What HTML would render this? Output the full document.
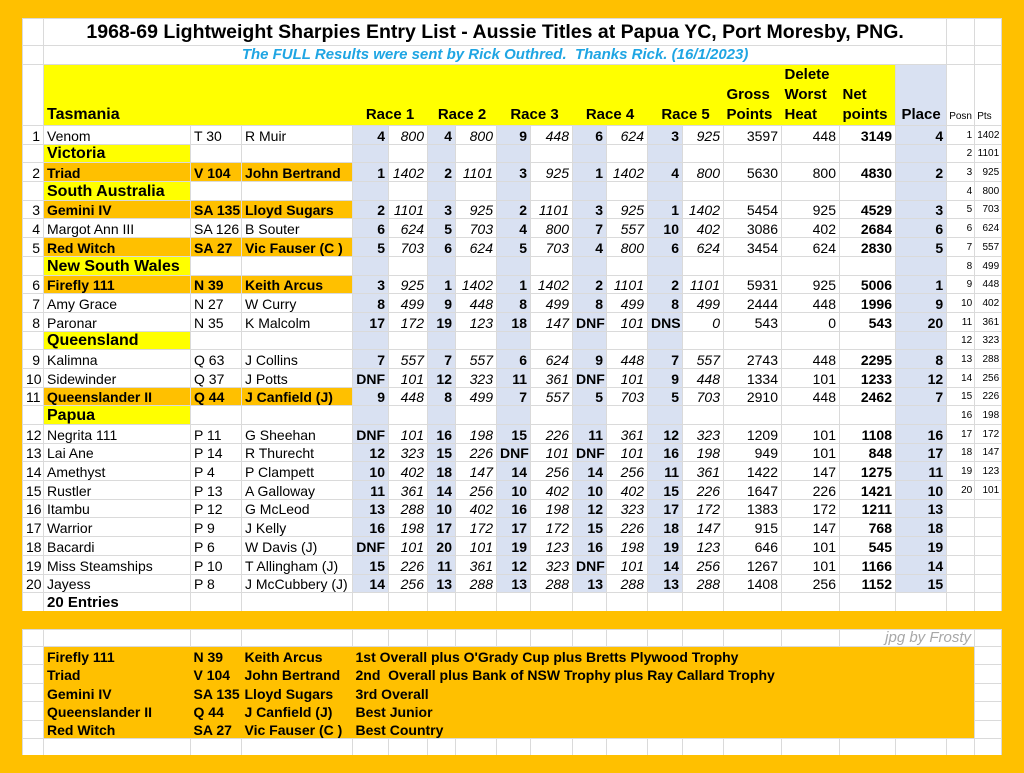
<!DOCTYPE html>
<html><head><meta charset="utf-8"><style>
*{margin:0;padding:0;box-sizing:border-box}
body{width:1024px;height:773px;background:#FFC000;position:relative;overflow:hidden;font-family:"Liberation Sans",Arial,sans-serif;color:#000}
#w1{position:absolute;left:22px;top:18px;width:980px;height:593px;background:#fff;overflow:hidden}
#w2{position:absolute;left:22px;top:629px;width:980px;height:126px;background:#fff;overflow:hidden}
table{border-collapse:collapse;table-layout:fixed;position:absolute;left:0;top:0;width:979px}
td{border:1px solid #dadada;font-size:14px;white-space:nowrap;overflow:visible;padding:0 3px;line-height:16px;vertical-align:bottom}
col.b{background:#D9E1F2}
tr.d{height:18.7px}
.p{font-weight:bold;text-align:right}
.s{font-style:italic;text-align:right}
.r{text-align:right}
.c{text-align:center}
.bd{font-weight:bold}
.o{background:#FFC000;font-weight:bold}
.y{background:#FFFF00}
.st{background:#FFFF00;font-weight:bold;font-size:16px}
.w{background:#fff}
.sm{font-size:10px;text-align:right;padding:0 2px}
.h td{white-space:normal}
.h td.y,.h td.hb{font-weight:bold;font-size:15px;line-height:20px;padding-bottom:0}
.hb{background:#D9E1F2}
</style></head><body>
<div id="w1">
<table>
<colgroup><col style="width:21px"><col style="width:147px"><col style="width:51px"><col style="width:111px"><col class="b" style="width:36px"><col style="width:39px"><col class="b" style="width:28px"><col style="width:41px"><col class="b" style="width:34px"><col style="width:42px"><col class="b" style="width:34px"><col style="width:41px"><col class="b" style="width:35px"><col style="width:41px"><col style="width:58px"><col style="width:58px"><col style="width:56px"><col class="b" style="width:51px"><col style="width:28px"><col style="width:27px"></colgroup>
<tr style="height:27px"><td class="w"></td><td class="w c" colspan="17" style="font-weight:bold;font-size:19.5px;line-height:24px;vertical-align:middle;border-left:none;border-right:none">1968-69 Lightweight Sharpies Entry List - Aussie Titles at Papua YC, Port Moresby, PNG.</td><td class="w"></td><td class="w"></td></tr>
<tr style="height:19px"><td class="w"></td><td class="w c" colspan="17" style="font-weight:bold;font-style:italic;font-size:15px;color:#1FA5E3;vertical-align:middle;border-left:none;border-right:none">The FULL Results were sent by Rick Outhred.&nbsp; Thanks Rick. (16/1/2023)</td><td class="w"></td><td class="w"></td></tr>
<tr class="h" style="height:61px"><td class="w"></td><td class="y" colspan="3" style="font-size:16px;border-right:none">Tasmania</td><td class="y c" colspan="2" style="border:none">Race 1</td><td class="y c" colspan="2" style="border:none">Race 2</td><td class="y c" colspan="2" style="border:none">Race 3</td><td class="y c" colspan="2" style="border:none">Race 4</td><td class="y c" colspan="2" style="border:none">Race 5</td><td class="y" style="border:none">Gross Points</td><td class="y" style="border:none">Delete Worst Heat</td><td class="y" style="border:none">Net points</td><td class="hb c">Place</td><td class="sm w" style="text-align:left">Posn</td><td class="sm w" style="text-align:left">Pts</td></tr>
<tr class="d"><td class="r">1</td><td>Venom</td><td>T 30</td><td>R Muir</td><td class="p">4</td><td class="s">800</td><td class="p">4</td><td class="s">800</td><td class="p">9</td><td class="s">448</td><td class="p">6</td><td class="s">624</td><td class="p">3</td><td class="s">925</td><td class="r">3597</td><td class="r">448</td><td class="p">3149</td><td class="p">4</td><td class="sm">1</td><td class="sm">1402</td></tr>
<tr class="d"><td></td><td class="st">Victoria</td><td></td><td></td><td></td><td></td><td></td><td></td><td></td><td></td><td></td><td></td><td></td><td></td><td></td><td></td><td></td><td></td><td class="sm">2</td><td class="sm">1101</td></tr>
<tr class="d"><td class="r">2</td><td class="o">Triad</td><td class="o">V 104</td><td class="o">John Bertrand</td><td class="p">1</td><td class="s">1402</td><td class="p">2</td><td class="s">1101</td><td class="p">3</td><td class="s">925</td><td class="p">1</td><td class="s">1402</td><td class="p">4</td><td class="s">800</td><td class="r">5630</td><td class="r">800</td><td class="p">4830</td><td class="p">2</td><td class="sm">3</td><td class="sm">925</td></tr>
<tr class="d"><td></td><td class="st">South Australia</td><td></td><td></td><td></td><td></td><td></td><td></td><td></td><td></td><td></td><td></td><td></td><td></td><td></td><td></td><td></td><td></td><td class="sm">4</td><td class="sm">800</td></tr>
<tr class="d"><td class="r">3</td><td class="o">Gemini IV</td><td class="o">SA 135</td><td class="o">Lloyd Sugars</td><td class="p">2</td><td class="s">1101</td><td class="p">3</td><td class="s">925</td><td class="p">2</td><td class="s">1101</td><td class="p">3</td><td class="s">925</td><td class="p">1</td><td class="s">1402</td><td class="r">5454</td><td class="r">925</td><td class="p">4529</td><td class="p">3</td><td class="sm">5</td><td class="sm">703</td></tr>
<tr class="d"><td class="r">4</td><td>Margot Ann III</td><td>SA 126</td><td>B Souter</td><td class="p">6</td><td class="s">624</td><td class="p">5</td><td class="s">703</td><td class="p">4</td><td class="s">800</td><td class="p">7</td><td class="s">557</td><td class="p">10</td><td class="s">402</td><td class="r">3086</td><td class="r">402</td><td class="p">2684</td><td class="p">6</td><td class="sm">6</td><td class="sm">624</td></tr>
<tr class="d"><td class="r">5</td><td class="o">Red Witch</td><td class="o">SA 27</td><td class="o">Vic Fauser (C )</td><td class="p">5</td><td class="s">703</td><td class="p">6</td><td class="s">624</td><td class="p">5</td><td class="s">703</td><td class="p">4</td><td class="s">800</td><td class="p">6</td><td class="s">624</td><td class="r">3454</td><td class="r">624</td><td class="p">2830</td><td class="p">5</td><td class="sm">7</td><td class="sm">557</td></tr>
<tr class="d"><td></td><td class="st">New South Wales</td><td></td><td></td><td></td><td></td><td></td><td></td><td></td><td></td><td></td><td></td><td></td><td></td><td></td><td></td><td></td><td></td><td class="sm">8</td><td class="sm">499</td></tr>
<tr class="d"><td class="r">6</td><td class="o">Firefly 111</td><td class="o">N 39</td><td class="o">Keith Arcus</td><td class="p">3</td><td class="s">925</td><td class="p">1</td><td class="s">1402</td><td class="p">1</td><td class="s">1402</td><td class="p">2</td><td class="s">1101</td><td class="p">2</td><td class="s">1101</td><td class="r">5931</td><td class="r">925</td><td class="p">5006</td><td class="p">1</td><td class="sm">9</td><td class="sm">448</td></tr>
<tr class="d"><td class="r">7</td><td>Amy Grace</td><td>N 27</td><td>W Curry</td><td class="p">8</td><td class="s">499</td><td class="p">9</td><td class="s">448</td><td class="p">8</td><td class="s">499</td><td class="p">8</td><td class="s">499</td><td class="p">8</td><td class="s">499</td><td class="r">2444</td><td class="r">448</td><td class="p">1996</td><td class="p">9</td><td class="sm">10</td><td class="sm">402</td></tr>
<tr class="d"><td class="r">8</td><td>Paronar</td><td>N 35</td><td>K Malcolm</td><td class="p">17</td><td class="s">172</td><td class="p">19</td><td class="s">123</td><td class="p">18</td><td class="s">147</td><td class="p">DNF</td><td class="s">101</td><td class="p">DNS</td><td class="s">0</td><td class="r">543</td><td class="r">0</td><td class="p">543</td><td class="p">20</td><td class="sm">11</td><td class="sm">361</td></tr>
<tr class="d"><td></td><td class="st">Queensland</td><td></td><td></td><td></td><td></td><td></td><td></td><td></td><td></td><td></td><td></td><td></td><td></td><td></td><td></td><td></td><td></td><td class="sm">12</td><td class="sm">323</td></tr>
<tr class="d"><td class="r">9</td><td>Kalimna</td><td>Q 63</td><td>J Collins</td><td class="p">7</td><td class="s">557</td><td class="p">7</td><td class="s">557</td><td class="p">6</td><td class="s">624</td><td class="p">9</td><td class="s">448</td><td class="p">7</td><td class="s">557</td><td class="r">2743</td><td class="r">448</td><td class="p">2295</td><td class="p">8</td><td class="sm">13</td><td class="sm">288</td></tr>
<tr class="d"><td class="r">10</td><td>Sidewinder</td><td>Q 37</td><td>J Potts</td><td class="p">DNF</td><td class="s">101</td><td class="p">12</td><td class="s">323</td><td class="p">11</td><td class="s">361</td><td class="p">DNF</td><td class="s">101</td><td class="p">9</td><td class="s">448</td><td class="r">1334</td><td class="r">101</td><td class="p">1233</td><td class="p">12</td><td class="sm">14</td><td class="sm">256</td></tr>
<tr class="d"><td class="r">11</td><td class="o">Queenslander II</td><td class="o">Q 44</td><td class="o">J Canfield (J)</td><td class="p">9</td><td class="s">448</td><td class="p">8</td><td class="s">499</td><td class="p">7</td><td class="s">557</td><td class="p">5</td><td class="s">703</td><td class="p">5</td><td class="s">703</td><td class="r">2910</td><td class="r">448</td><td class="p">2462</td><td class="p">7</td><td class="sm">15</td><td class="sm">226</td></tr>
<tr class="d"><td></td><td class="st">Papua</td><td></td><td></td><td></td><td></td><td></td><td></td><td></td><td></td><td></td><td></td><td></td><td></td><td></td><td></td><td></td><td></td><td class="sm">16</td><td class="sm">198</td></tr>
<tr class="d"><td class="r">12</td><td>Negrita 111</td><td>P 11</td><td>G Sheehan</td><td class="p">DNF</td><td class="s">101</td><td class="p">16</td><td class="s">198</td><td class="p">15</td><td class="s">226</td><td class="p">11</td><td class="s">361</td><td class="p">12</td><td class="s">323</td><td class="r">1209</td><td class="r">101</td><td class="p">1108</td><td class="p">16</td><td class="sm">17</td><td class="sm">172</td></tr>
<tr class="d"><td class="r">13</td><td>Lai Ane</td><td>P 14</td><td>R Thurecht</td><td class="p">12</td><td class="s">323</td><td class="p">15</td><td class="s">226</td><td class="p">DNF</td><td class="s">101</td><td class="p">DNF</td><td class="s">101</td><td class="p">16</td><td class="s">198</td><td class="r">949</td><td class="r">101</td><td class="p">848</td><td class="p">17</td><td class="sm">18</td><td class="sm">147</td></tr>
<tr class="d"><td class="r">14</td><td>Amethyst</td><td>P 4</td><td>P Clampett</td><td class="p">10</td><td class="s">402</td><td class="p">18</td><td class="s">147</td><td class="p">14</td><td class="s">256</td><td class="p">14</td><td class="s">256</td><td class="p">11</td><td class="s">361</td><td class="r">1422</td><td class="r">147</td><td class="p">1275</td><td class="p">11</td><td class="sm">19</td><td class="sm">123</td></tr>
<tr class="d"><td class="r">15</td><td>Rustler</td><td>P 13</td><td>A Galloway</td><td class="p">11</td><td class="s">361</td><td class="p">14</td><td class="s">256</td><td class="p">10</td><td class="s">402</td><td class="p">10</td><td class="s">402</td><td class="p">15</td><td class="s">226</td><td class="r">1647</td><td class="r">226</td><td class="p">1421</td><td class="p">10</td><td class="sm">20</td><td class="sm">101</td></tr>
<tr class="d"><td class="r">16</td><td>Itambu</td><td>P 12</td><td>G McLeod</td><td class="p">13</td><td class="s">288</td><td class="p">10</td><td class="s">402</td><td class="p">16</td><td class="s">198</td><td class="p">12</td><td class="s">323</td><td class="p">17</td><td class="s">172</td><td class="r">1383</td><td class="r">172</td><td class="p">1211</td><td class="p">13</td><td></td><td></td></tr>
<tr class="d"><td class="r">17</td><td>Warrior</td><td>P 9</td><td>J Kelly</td><td class="p">16</td><td class="s">198</td><td class="p">17</td><td class="s">172</td><td class="p">17</td><td class="s">172</td><td class="p">15</td><td class="s">226</td><td class="p">18</td><td class="s">147</td><td class="r">915</td><td class="r">147</td><td class="p">768</td><td class="p">18</td><td></td><td></td></tr>
<tr class="d"><td class="r">18</td><td>Bacardi</td><td>P 6</td><td>W Davis (J)</td><td class="p">DNF</td><td class="s">101</td><td class="p">20</td><td class="s">101</td><td class="p">19</td><td class="s">123</td><td class="p">16</td><td class="s">198</td><td class="p">19</td><td class="s">123</td><td class="r">646</td><td class="r">101</td><td class="p">545</td><td class="p">19</td><td></td><td></td></tr>
<tr class="d"><td class="r">19</td><td>Miss Steamships</td><td>P 10</td><td>T Allingham (J)</td><td class="p">15</td><td class="s">226</td><td class="p">11</td><td class="s">361</td><td class="p">12</td><td class="s">323</td><td class="p">DNF</td><td class="s">101</td><td class="p">14</td><td class="s">256</td><td class="r">1267</td><td class="r">101</td><td class="p">1166</td><td class="p">14</td><td></td><td></td></tr>
<tr class="d"><td class="r">20</td><td>Jayess</td><td>P 8</td><td>J McCubbery (J)</td><td class="p">14</td><td class="s">256</td><td class="p">13</td><td class="s">288</td><td class="p">13</td><td class="s">288</td><td class="p">13</td><td class="s">288</td><td class="p">13</td><td class="s">288</td><td class="r">1408</td><td class="r">256</td><td class="p">1152</td><td class="p">15</td><td></td><td></td></tr>
<tr class="d"><td class="w"></td><td class="w bd" style="font-size:15px">20 Entries</td><td class="w"></td><td class="w"></td><td class="w"></td><td class="w"></td><td class="w"></td><td class="w"></td><td class="w"></td><td class="w"></td><td class="w"></td><td class="w"></td><td class="w"></td><td class="w"></td><td class="w"></td><td class="w"></td><td class="w"></td><td class="w"></td><td class="w"></td><td class="w"></td></tr>
</table>
</div>
<div id="w2">
<table>
<colgroup><col style="width:21px"><col style="width:147px"><col style="width:51px"><col style="width:111px"><col style="width:36px"><col style="width:39px"><col style="width:28px"><col style="width:41px"><col style="width:34px"><col style="width:42px"><col style="width:34px"><col style="width:41px"><col style="width:35px"><col style="width:41px"><col style="width:58px"><col style="width:58px"><col style="width:56px"><col style="width:51px"><col style="width:28px"><col style="width:27px"></colgroup>
<tr style="height:17px"><td></td><td></td><td></td><td></td><td></td><td></td><td></td><td></td><td></td><td></td><td></td><td></td><td></td><td></td><td></td><td></td><td colspan="3" class="r" style="border-left:none;font-style:italic;font-size:15px;color:#a8a8a8;vertical-align:middle">jpg by Frosty</td><td></td></tr>
<tr style="height:18.4px"><td></td><td class="o" style="border:none">Firefly 111</td><td class="o" style="border:none">N 39</td><td class="o" style="border:none">Keith Arcus</td><td class="o" colspan="15" style="border:none">1st Overall plus O'Grady Cup plus Bretts Plywood Trophy</td><td></td></tr>
<tr style="height:18.4px"><td></td><td class="o" style="border:none">Triad</td><td class="o" style="border:none">V 104</td><td class="o" style="border:none">John Bertrand</td><td class="o" colspan="15" style="border:none">2nd&nbsp; Overall plus Bank of NSW Trophy plus Ray Callard Trophy</td><td></td></tr>
<tr style="height:18.4px"><td></td><td class="o" style="border:none">Gemini IV</td><td class="o" style="border:none">SA 135</td><td class="o" style="border:none">Lloyd Sugars</td><td class="o" colspan="15" style="border:none">3rd Overall</td><td></td></tr>
<tr style="height:18.4px"><td></td><td class="o" style="border:none">Queenslander II</td><td class="o" style="border:none">Q 44</td><td class="o" style="border:none">J Canfield (J)</td><td class="o" colspan="15" style="border:none">Best Junior</td><td></td></tr>
<tr style="height:18.4px"><td></td><td class="o" style="border:none">Red Witch</td><td class="o" style="border:none">SA 27</td><td class="o" style="border:none">Vic Fauser (C )</td><td class="o" colspan="15" style="border:none">Best Country</td><td></td></tr>
<tr style="height:17px"><td></td><td></td><td></td><td></td><td></td><td></td><td></td><td></td><td></td><td></td><td></td><td></td><td></td><td></td><td></td><td></td><td></td><td></td><td></td><td></td></tr>
</table>
</div>
</body></html>
